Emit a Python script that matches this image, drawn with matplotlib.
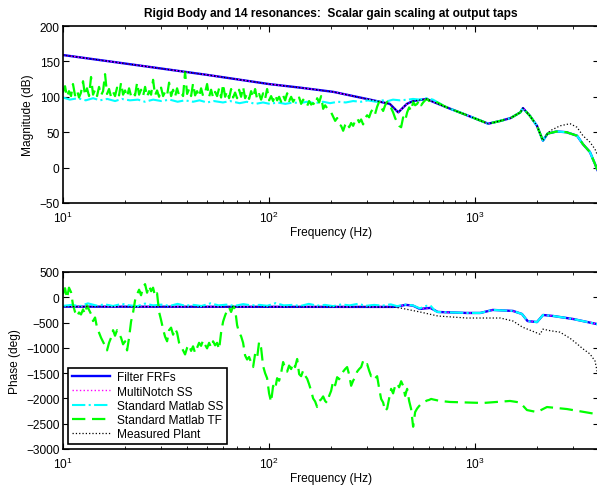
import matplotlib
matplotlib.use("Agg")
import matplotlib.pyplot as plt

plt.rcParams.update({"font.family": ["Liberation Sans", "DejaVu Sans"],
                     "font.size": 8.6, "axes.linewidth": 1.2,
                     "xtick.direction": "in", "ytick.direction": "in",
                     "xtick.top": True, "ytick.right": True})

BLUE = (0, 0, 1)
MAGENTA = (1, 0, 1)
CYAN = (0, 1, 1)
GREEN = (0, 1, 0)

# ---- magnitude (dB): filter FRF fit ----
F_MAG_FILT = [10, 20, 50, 100, 141, 205, 298, 386, 424, 467, 500, 583, 614,
              730, 913, 1160, 1330, 1490, 1660, 1710, 1850, 2000, 2110, 2138,
              2250, 2490, 2780, 3130, 3344, 3614, 3826, 3910, 4000]
MAG_FILT = [159, 147, 131, 118, 113, 107, 97, 90, 78, 90, 94, 97, 94,
            85, 74, 62, 66, 70, 78, 84, 73, 59, 42, 38,
            48, 51, 50, 45, 33, 22, 5, -2, -8]

# standard matlab SS, low band (joins the fit above ~600 Hz)
F_MAG_SS_LOW = [10, 10.8, 11.8, 12.9, 14, 15.1, 16.4, 17.9, 19.3, 21.1, 23.1,
                25, 27.4, 30, 33, 36, 39, 42.8, 46, 50, 54, 59.8, 64.7, 72,
                78, 86, 93.5, 101, 110, 120, 131, 141, 153, 167, 183, 198,
                216, 236, 256, 280, 302, 330, 354, 378, 400, 432, 473, 500,
                540, 578, 605, 625]
MAG_SS_LOW = [99, 96, 98, 95, 98, 95, 97, 94, 97, 95, 96,
              93, 96, 94, 96, 93, 95, 93, 95, 92, 94, 92, 94, 91,
              93, 90, 92, 90, 92, 90, 92, 91, 93, 91, 93, 91,
              93, 92, 94, 93, 95, 93, 95, 94, 96, 95, 96, 97,
              96, 98, 97, 96]

# standard matlab TF, noisy low band (shared by magnitude and phase)
F_TF_LOW = [10.00, 10.23, 10.46, 10.69, 10.94, 11.18, 11.44, 11.70, 11.96, 12.23,
            12.51, 12.79, 13.08, 13.38, 13.68, 13.99, 14.31, 14.63, 14.96, 15.30,
            15.65, 16.00, 16.36, 16.73, 17.11, 17.50, 17.89, 18.30, 18.71, 19.14,
            19.57, 20.01, 20.47, 20.93, 21.40, 21.89, 22.38, 22.89, 23.41, 23.93,
            24.48, 25.03, 25.59, 26.17, 26.77, 27.37, 27.99, 28.62, 29.27, 29.93,
            30.61, 31.30, 32.01, 32.73, 33.47, 34.23, 35.00, 35.79, 36.60, 37.43,
            38.28, 39.14, 40.03, 40.93, 41.86, 42.80, 43.77, 44.76, 45.77, 46.81,
            47.87, 48.95, 50.06, 51.19, 52.35, 53.53, 54.74, 55.98, 57.25, 58.54,
            59.87, 61.22, 62.61, 64.02, 65.47, 66.95, 68.47, 70.01, 71.60, 73.21,
            74.87, 76.56, 78.29, 80.06, 81.88, 83.73, 85.62, 87.56, 89.54, 91.56,
            93.63, 95.75, 97.91, 100.1, 102.4, 104.7, 107.1, 109.5, 112.0, 114.5,
            117.1, 119.8, 122.5, 125.2, 128.1, 131.0, 133.9, 137.0, 140.1, 143.2,
            146.5, 149.8, 153.2, 156.6, 160.2, 163.8, 167.5, 171.3, 175.2, 179.1,
            183.2, 187.3, 191.5, 195.9, 200.3, 204.8, 209.5, 214.2, 219.0, 224.0,
            229.1, 234.2, 239.5, 245.0, 250.5, 256.2, 261.9, 267.9, 273.9, 280.1,
            286.4, 292.9, 299.5, 306.3, 313.2, 320.3, 327.6, 335.0, 342.5, 350.3,
            358.2, 366.3, 374.6, 383.0, 391.7, 400.5, 409.6, 418.8, 428.3, 438.0,
            447.9, 458.0, 468.4, 479.0, 489.8, 500.9, 512.2, 523.8, 535.6, 547.7,
            560.1, 572.8, 585.7, 598.9, 612.5, 626.3]
MAG_TF_LOW = [106, 115, 100, 108, 101, 118, 102, 109, 99, 106,
              122, 102, 112, 101, 128, 103, 110, 101, 114, 102,
              108, 132, 104, 111, 100, 107, 101, 113, 102, 120,
              103, 109, 100, 112, 101, 106, 102, 120, 103, 110,
              101, 114, 100, 108, 103, 124, 102, 109, 100, 113,
              101, 107, 102, 120, 101, 110, 100, 112, 102, 106,
              101, 135, 104, 111, 101, 119, 102, 108, 100, 112,
              101, 106, 118, 100, 110, 99, 107, 101, 112, 99,
              118, 100, 108, 98, 111, 99, 106, 98, 110, 100,
              114, 98, 105, 97, 108, 99, 111, 97, 104, 96,
              105, 97, 111, 95, 101, 94, 103, 95, 100, 93,
              102, 95, 105, 94, 100, 93, 98, 95, 99, 90,
              96, 92, 87, 94, 89, 91, 88, 98, 92, 101,
              83, 88, 84, 82, 78, 72, 66, 70, 61, 59,
              52, 60, 64, 57, 63, 59, 66, 70, 64, 68,
              61, 70, 74, 71, 79, 83, 76, 86, 93, 85,
              80, 88, 93, 86, 84, 78, 70, 64, 59, 57,
              71, 66, 78, 85, 80, 93, 88, 90, 95, 88,
              92, 95, 97, 94, 96, 95]
PH_TF_LOW = [60, 180, -20, 190, 100, -150, -290, -380, -300, -340,
             -240, -330, -160, -250, -330, -470, -400, -600, -700, -800,
             -880, -960, -1050, -900, -800, -650, -760, -650, -720, -800,
             -930, -870, -1050, -800, -480, -300, -60, 60, 150, 40,
             200, 260, 90, 230, 120, 190, 20, 80, -290, -450,
             -630, -780, -870, -650, -600, -740, -620, -700, -900, -980,
             -1050, -1130, -1000, -940, -1060, -970, -1100, -1000, -900, -960,
             -850, -940, -1010, -900, -990, -870, -950, -900, -1030, -700,
             -480, -360, -260, -200, -290, -180, -230, -550, -700, -770,
             -900, -1150, -1230, -1180, -1290, -1380, -1120, -1200, -880, -1000,
             -1360, -1500, -1600, -1900, -2070, -1750, -1820, -1600, -1650, -1500,
             -1280, -1400, -1470, -1350, -1420, -1300, -1380, -1220, -1520, -1560,
             -1450, -1550, -1610, -1720, -1850, -2000, -2060, -2170, -2050, -2020,
             -1960, -2050, -2090, -1950, -1850, -1660, -1740, -1580, -1620, -1530,
             -1470, -1420, -1380, -1530, -1750, -1650, -1580, -1470, -1420, -1380,
             -1260, -1340, -1320, -1450, -1560, -1530, -1600, -1560, -1800, -2010,
             -2080, -2250, -2200, -2000, -1810, -1900, -1750, -1700, -1780, -1660,
             -1750, -1950, -1810, -2050, -2210, -2560, -2270, -2200, -2150, -2110,
             -2080, -2060, -2040, -2030, -2010, -2020]

# measured plant departs from the filter fit above ~2.3 kHz
F_MAG_PLANT_HIGH = [2313, 2587, 2893, 3127, 3344, 3614, 3826, 3910, 4000]
MAG_PLANT_HIGH = [52, 59, 62, 57, 45, 36, 26, 19, 15]

# ---- phase (deg) ----
F_PH_FILT = [10, 300, 400, 418, 460, 500, 540, 607, 660, 910, 1060, 1220,
             1530, 1690, 1800, 2000, 2140, 2400, 3000, 3910, 4000]
PH_FILT = [-185, -190, -190, -185, -150, -165, -230, -210, -290, -310, -310,
           -250, -270, -330, -470, -490, -350, -370, -430, -530, -540]

F_PH_SS_LOW = [10, 11, 12.1, 13.2, 14.6, 16, 17.5, 19.3, 21, 23, 25, 27.4,
               30, 33, 36, 39, 43, 47, 52, 57, 62, 68, 75, 82, 90, 98, 108,
               118, 130, 142, 156, 171, 187, 205, 225, 246, 270, 296, 324,
               355, 390, 418, 460, 500, 540, 580, 607, 640]
PH_SS_LOW = [-170, -150, -175, -120, -165, -140, -172, -130, -160, -175,
             -125, -160, -145, -170, -130, -165, -150, -172, -120, -160,
             -145, -170, -135, -160, -150, -168, -115, -160, -150, -172,
             -130, -165, -150, -175, -140, -160, -130, -168, -150, -165,
             -140, -175, -145, -160, -220, -170, -160, -270]

F_PH_TF_HIGH = [676.1, 756.3, 1094, 1479, 1653, 1788, 2000, 2236, 2796, 3910,
                4000]
PH_TF_HIGH = [-2050, -2070, -2090, -2050, -2080, -2230, -2270, -2170, -2210,
              -2310, -2320]

F_PH_PLANT = [10, 300, 400, 432, 540, 660, 910, 1330, 1530, 1700, 2070, 2138,
              2313, 2587, 2893, 3127, 3344, 3614, 3826, 3910, 4000]
PH_PLANT = [-185, -190, -195, -210, -290, -370, -410, -410, -470, -590, -730,
            -630, -660, -690, -810, -920, -1020, -1120, -1260, -1450, -1600]

LABELS = ["Filter FRFs", "MultiNotch SS", "Standard Matlab SS",
          "Standard Matlab TF", "Measured Plant"]


def join_high(f_low, v_low, f_ref, v_ref):
    # low band read separately, then the common high-frequency curve
    f_cut = f_low[-1]
    fh = [f for f in f_ref if f > f_cut]
    vh = [v for f, v in zip(f_ref, v_ref) if f > f_cut]
    return list(f_low) + fh, list(v_low) + vh


def style(ax, ylim, yticks, ylabel):
    ax.set_xscale("log")
    ax.set_xlim(10, 4000)
    ax.set_ylim(*ylim)
    ax.set_yticks(yticks)
    ax.set_ylabel(ylabel)
    ax.set_xlabel("Frequency (Hz)", labelpad=0.5)
    ax.tick_params(which="major", length=4, width=0.8, labelsize=8.6)
    ax.tick_params(which="minor", length=2, width=0.6)
    ax.tick_params(axis="x", which="major", pad=5)
    ax.tick_params(axis="y", which="major", pad=2.5)


fig = plt.figure(figsize=(5.97, 4.89), dpi=100)
ax1 = fig.add_axes([63 / 597, 1 - 204 / 489, 536 / 597, 177 / 489])
ax2 = fig.add_axes([63 / 597, 1 - 450 / 489, 536 / 597, 177 / 489])

f_ss, m_ss = join_high(F_MAG_SS_LOW, MAG_SS_LOW, F_MAG_FILT, MAG_FILT)
f_tf, m_tf = join_high(F_TF_LOW, MAG_TF_LOW, F_MAG_FILT, MAG_FILT)
f_pl = [f for f in F_MAG_FILT if f < F_MAG_PLANT_HIGH[0]] + F_MAG_PLANT_HIGH
m_pl = [v for f, v in zip(F_MAG_FILT, MAG_FILT) if f < F_MAG_PLANT_HIGH[0]] + MAG_PLANT_HIGH

ax1.plot(F_MAG_FILT, MAG_FILT, color=BLUE, lw=1.7)
ax1.plot(F_MAG_FILT, MAG_FILT, color=MAGENTA, ls=":", lw=1.0)
ax1.plot(f_ss, m_ss, color=CYAN, ls="-.", lw=1.5)
ax1.plot(f_tf, m_tf, color=GREEN, ls="--", lw=1.6, dashes=(6, 3))
ax1.plot(f_pl, m_pl, color="k", ls=":", lw=0.9)
style(ax1, (-50, 200), range(-50, 201, 50), "Magnitude (dB)")
ax1.set_title("Rigid Body and 14 resonances:  Scalar gain scaling at output taps",
              fontsize=8.6, fontweight="bold", pad=7)

f_pss, p_ss = join_high(F_PH_SS_LOW, PH_SS_LOW, F_PH_FILT, PH_FILT)
ax2.plot(F_PH_FILT, PH_FILT, color=BLUE, lw=1.7, label=LABELS[0])
ax2.plot(F_PH_FILT, PH_FILT, color=MAGENTA, ls=":", lw=1.0, label=LABELS[1])
ax2.plot(f_pss, p_ss, color=CYAN, ls="-.", lw=1.5, label=LABELS[2])
ax2.plot(F_TF_LOW + F_PH_TF_HIGH, PH_TF_LOW + PH_TF_HIGH, color=GREEN,
         ls="--", lw=1.6, dashes=(6, 3), label=LABELS[3])
ax2.plot(F_PH_PLANT, PH_PLANT, color="k", ls=":", lw=0.9, label=LABELS[4])
style(ax2, (-3000, 500), range(-3000, 501, 500), "Phase (deg)")

leg = ax2.legend(loc="lower left", fancybox=False, framealpha=1,
                 edgecolor="k", handlelength=3.2, borderaxespad=0.45,
                 labelspacing=0.18, borderpad=0.3, handletextpad=0.6)
leg.get_frame().set_linewidth(1.2)

fig.savefig("out.png", dpi=100)
